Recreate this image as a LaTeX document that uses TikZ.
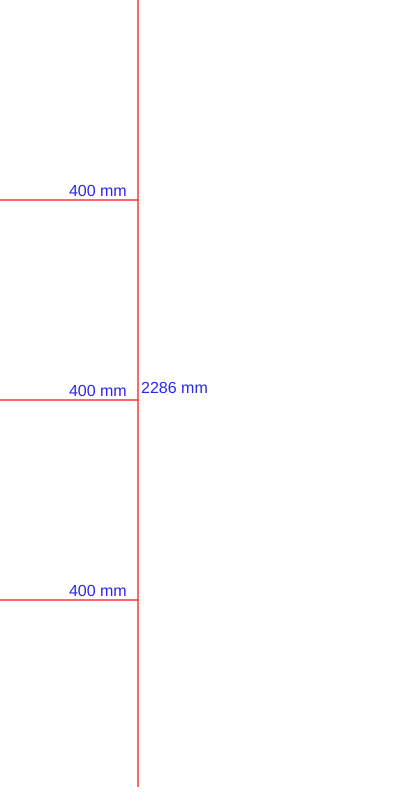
\documentclass[tikz,border=0pt]{standalone}
\usepackage{fontspec}
\setmainfont{Liberation Sans}
\usetikzlibrary{positioning}
\definecolor{markblue}{RGB}{40,40,240}
\tikzset{
  markline/.style={red, draw opacity=0.6, line width=2pt},
  marklabel/.style={text=markblue, font=\fontsize{16}{19}\selectfont, inner sep=0pt}
}

\begin{document}
\begin{tikzpicture}[x=1pt, y=-1pt]
  \useasboundingbox (0,0) rectangle (405,800);
  % main vertical
  \coordinate (top) at (137.5,0);
  \coordinate (bottom) at (137.5,787);
  \draw[markline] (top) -- (bottom);
  \node[marklabel, anchor=base west] (total) at (141,393) {2286 mm};
  % spacing marks
  \foreach \y [count=\i] in {199.5, 399.5, 599.5} {
    \coordinate (left\i) at (0,\y);
    \coordinate (right\i) at (137.5,\y);
    \draw[markline] (left\i) -- (right\i);
    \node[marklabel, anchor=base east] (gap\i) at (127,\y-3.5) {400 mm};
  }
\end{tikzpicture}
\end{document}
